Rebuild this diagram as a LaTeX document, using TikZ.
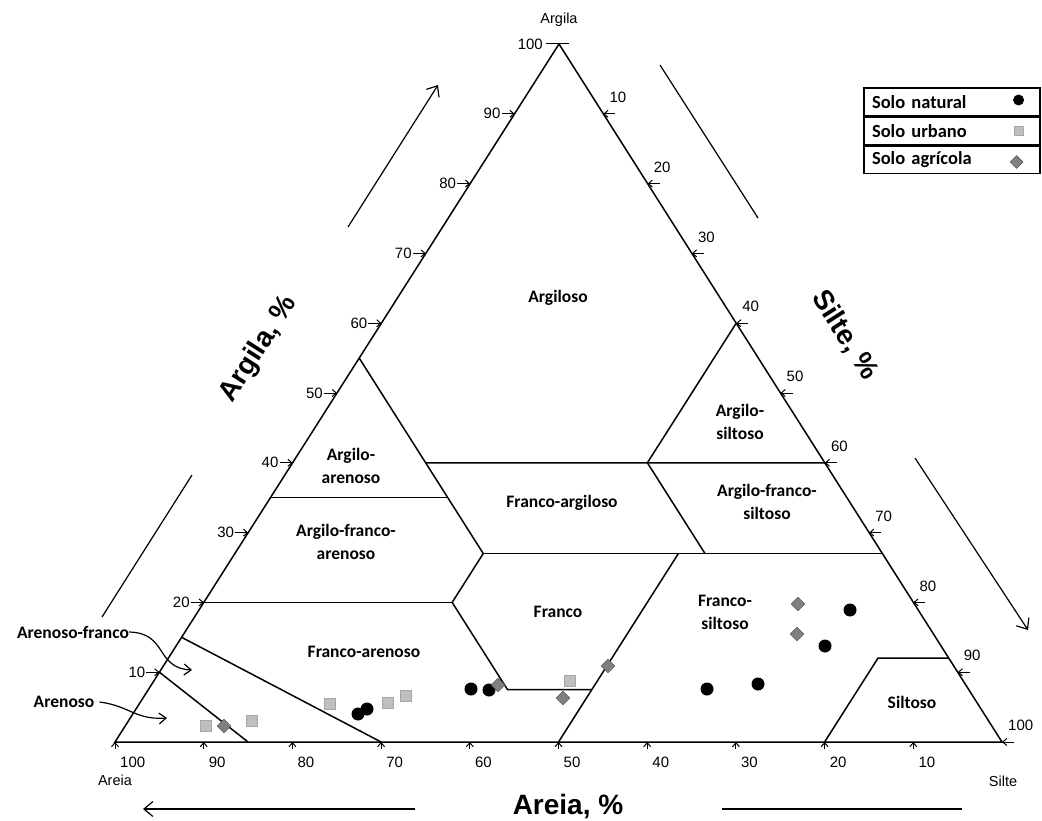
\documentclass[tikz,border=0pt]{standalone}
\usepackage{fontspec}
\usepackage{tikz}
\usetikzlibrary{arrows.meta, positioning, calc, shapes.geometric}
\newfontfamily\arialf{Liberation Sans}
\newfontfamily\calf{Carlito}

\begin{document}
\begin{tikzpicture}[
				x=1pt, y=-1pt,
				edge/.style={line width=1.5pt},
				region/.style={font=\calf\bfseries\fontsize{17.5}{23}\selectfont, align=center, inner sep=0pt},
				ticklab/.style={font=\arialf\fontsize{15}{16}\selectfont, inner sep=1pt},
				tickmark/.style={line width=1pt, -{Straight Barb[length=4pt,width=7pt]}},
				corner/.style={font=\arialf\fontsize{14.5}{16}\selectfont},
				axtitle/.style={font=\arialf\bfseries\fontsize{28}{32}\selectfont},
				arrow/.style={line width=1.2pt, -{Straight Barb[length=9pt,width=15pt]}},
				pointer/.style={line width=1.2pt, -{Straight Barb[length=7pt,width=11pt]}},
				legrow/.style={draw, line width=1.2pt, minimum width=176pt, minimum height=27.8pt, text width=160pt, align=left, inner xsep=8pt, font=\calf\bfseries\fontsize{18.5}{20}\selectfont},
				natural/.style={circle, fill=black, minimum size=13pt, inner sep=0pt},
				urbano/.style={rectangle, fill=gray!50, draw=gray!70, minimum size=11pt, inner sep=0pt},
				agricola/.style={diamond, fill=gray, draw=black!70, minimum size=14pt, inner sep=0pt}
				]
				\useasboundingbox (0,0) rectangle (1042,821);
				
				% 三角形
				\coordinate (S) at (115,742);
				\coordinate (A) at (559,44);
				\coordinate (L) at (1002,742);
				\draw[edge] (S) -- (A) -- (L) -- cycle;
				
				% 分区点 (S=Areia, A=Argila, L=Silte)
				\coordinate (p4555) at (barycentric cs:S=.45,A=.55);
				\coordinate (p4540) at (barycentric cs:S=.45,A=.40,L=.15);
				\coordinate (p4535) at (barycentric cs:S=.45,A=.35,L=.20);
				\coordinate (p4527) at (barycentric cs:S=.45,A=.27,L=.28);
				\coordinate (p6535) at (barycentric cs:S=.65,A=.35);
				\coordinate (p2040) at (barycentric cs:S=.20,A=.40,L=.40);
				\coordinate (p0060) at (barycentric cs:A=.60,L=.40);
				\coordinate (p0040) at (barycentric cs:A=.40,L=.60);
				\coordinate (p2027) at (barycentric cs:S=.20,A=.27,L=.53);
				\coordinate (p0027) at (barycentric cs:A=.27,L=.73);
				\coordinate (p2327) at (barycentric cs:S=.23,A=.27,L=.50);
				\coordinate (p5000) at (barycentric cs:S=.50,L=.50);
				\coordinate (p8020) at (barycentric cs:S=.80,A=.20);
				\coordinate (p5220) at (barycentric cs:S=.52,A=.20,L=.28);
				\coordinate (p5207) at (barycentric cs:S=.52,A=.075,L=.405);
				\coordinate (p4207) at (barycentric cs:S=.425,A=.075,L=.50);
				\coordinate (p8515) at (barycentric cs:S=.85,A=.15);
				\coordinate (p7000) at (barycentric cs:S=.70,L=.30);
				\coordinate (p9010) at (barycentric cs:S=.90,A=.10);
				\coordinate (p8500) at (barycentric cs:S=.85,L=.15);
				\coordinate (p2000) at (barycentric cs:S=.20,L=.80);
				\coordinate (p0812) at (barycentric cs:S=.08,A=.12,L=.80);
				\coordinate (p0012) at (barycentric cs:A=.12,L=.88);
				
				% 分区线
				\draw[edge] (p4555) -- (p4540) -- (p4535) -- (p4527) -- (p5220) -- (p5207) -- (p4207);
				\draw[edge] (p6535) -- (p4535);
				\draw[edge] (p4540) -- (p0040);
				\draw[edge] (p2040) -- (p0060);
				\draw[edge] (p2040) -- (p2027);
				\draw[edge] (p4527) -- (p0027);
				\draw[edge] (p2327) -- (p5000);
				\draw[edge] (p8020) -- (p5220);
				\draw[edge] (p8515) -- (p7000);
				\draw[edge] (p9010) -- (p8500);
				\draw[edge] (p2000) -- (p0812) -- (p0012);
				
				% 刻度
				\foreach \v in {10,20,...,90} {
					\coordinate (cl\v) at ($(S)!{\v/100}!(A)$);
					\draw[tickmark] ($(cl\v)+(-13,0)$) -- (cl\v);
					\node[ticklab, anchor=east] (lcl\v) at ($(cl\v)+(-13,0)$) {\v};
				}
				\foreach \v in {10,20,...,100} {
					\coordinate (si\v) at ($(A)!{\v/100}!(L)$);
					\draw[tickmark] ($(si\v)+(12,0)$) -- (si\v);
					\node[ticklab, anchor=south west] (lsi\v) at ($(si\v)+(5,-10)$) {\v};
					\coordinate (ar\v) at ($(L)!{\v/100}!(S)$);
					\draw[tickmark] ($(ar\v)+(0,7)$) -- (ar\v);
					\node[ticklab, anchor=west] (lar\v) at ($(ar\v)+(4,20)$) {\v};
				}
				\draw[line width=1pt] ($(A)+(-13,0)$) -- ($(A)+(10,0)$);
				\node[ticklab, anchor=east] (lcl100) at ($(A)+(-15,0)$) {100};
				
				% 顶点名称
				\node[corner] (argila) at (559,20) {Argila};
				\node[corner] (areia) at (115,780) {Areia};
				\node[corner] (silte) at (1003,781) {Silte};
				
				% 轴标题
				\node[axtitle, rotate=57.5] (tArgila) at (259,349) {Argila, \%};
				\node[axtitle, rotate=-57.5] (tSilte) at (845,335) {Silte, \%};
				\node[axtitle] (tAreia) at (568,807) {Areia, \%};
				
				% 方向箭头
				\coordinate (ua) at (348,227);
				\coordinate (ub) at (438,85);
				\coordinate (ya) at (192,475);
				\coordinate (yb) at (102,617);
				\coordinate (va) at (660,65);
				\coordinate (vb) at (758,218);
				\coordinate (wa) at (915,458);
				\coordinate (wb) at (1028,630);
				\coordinate (ha) at (415,809);
				\coordinate (hb) at (143,809);
				\coordinate (ka) at (722,809);
				\coordinate (kb) at (962,809);
				\draw[arrow] (ua) -- (ub);
				\draw[line width=1.2pt] (ya) -- (yb);
				\draw[line width=1.2pt] (va) -- (vb);
				\draw[arrow] (wa) -- (wb);
				\draw[arrow] (ha) -- (hb);
				\draw[line width=1.2pt] (ka) -- (kb);
				
				% 分区名称
				\node[region] (argiloso) at (558,298) {Argiloso};
				\node[region] (argsil) at (740,422) {Argilo-\\siltoso};
				\node[region] (argare) at (351,466) {Argilo-\\arenoso};
				\node[region] (franarg) at (562,503) {Franco-argiloso};
				\node[region] (argfransil) at (767,502) {Argilo-franco-\\siltoso};
				\node[region] (argfranare) at (346,542) {Argilo-franco-\\arenoso};
				\node[region] (franco) at (558,612) {Franco};
				\node[region] (fransil) at (725,612) {Franco-\\siltoso};
				\node[region] (siltoso) at (912,702) {Siltoso};
				\node[region] (franare) at (364,652) {Franco-arenoso};
				
				% Arenoso-franco 与 Arenoso
				\node[region] (arefran) at (73,632) {Arenoso-franco};
				\node[region] (arenoso) at (64,702) {Arenoso};
				\coordinate (arefranend) at (192,670);
				\coordinate (arenosoend) at (167,718);
				\draw[pointer] (arefran.east) .. controls (168,633) and (155,668) .. (arefranend);
				\draw[pointer] ([xshift=5pt]arenoso.east) .. controls (130,706) and (135,720) .. (arenosoend);
				
				% 数据点
				\foreach \x/\y [count=\i] in {358/714, 367/709, 471/689, 489/690, 707/689, 758/684, 825/646, 850/610}
					\node[natural] (nat\i) at (\x,\y) {};
				\foreach \x/\y [count=\i] in {206/726, 252/721, 330/704, 388/703, 406/696, 570/681}
					\node[urbano] (urb\i) at (\x,\y) {};
				\foreach \x/\y [count=\i] in {224/726, 498/685, 563/698, 608/666, 797/634, 798/604}
					\node[agricola] (agr\i) at (\x,\y) {};
				
				% 图例
				\node[legrow] (leg1) at (952,102) {Solo natural};
				\node[legrow, below=0pt of leg1] (leg2) {Solo urbano};
				\node[legrow, below=0pt of leg2] (leg3) {Solo agrícola};
				\node[natural, minimum size=11pt, yshift=2pt] (legnat) at ([xshift=-22pt]leg1.east) {};
				\node[urbano, minimum size=9pt] (legurb) at ([xshift=-22pt]leg2.east) {};
				\node[agricola, minimum size=13pt, yshift=-2pt] (legagr) at ([xshift=-24pt]leg3.east) {};
				
			\end{tikzpicture}
\end{document}
